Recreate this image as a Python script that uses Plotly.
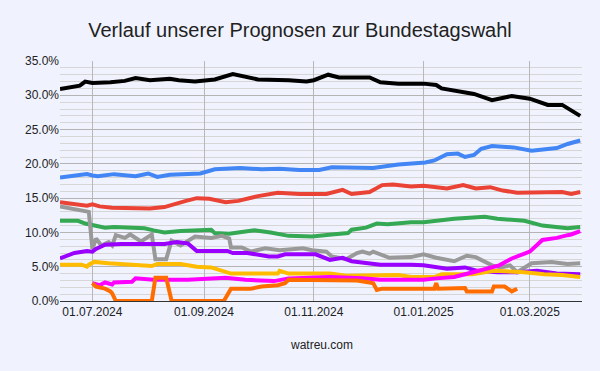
import plotly.graph_objects as go

# ---------------- data ----------------
cdu_dates = ["2024-06-13","2024-06-21","2024-06-24","2024-06-27","2024-07-01","2024-07-11","2024-07-19","2024-07-25",
             "2024-08-02","2024-08-13","2024-08-18","2024-08-27","2024-09-01","2024-09-07","2024-09-17","2024-09-25",
             "2024-10-01","2024-10-18","2024-10-28","2024-11-01","2024-11-09","2024-11-15","2024-12-02","2024-12-08",
             "2024-12-18","2025-01-01","2025-01-08","2025-01-11","2025-01-21","2025-01-29","2025-02-08","2025-02-12",
             "2025-02-19","2025-03-01","2025-03-11","2025-03-19","2025-03-24","2025-03-29"]
cdu_vals = [30.9,31.2,31.4,32.0,31.8,31.9,32.1,32.5,32.2,32.4,32.2,32.0,32.1,32.3,33.1,32.7,
            32.3,32.2,32.0,32.2,33.0,32.6,32.6,31.9,31.7,31.7,31.5,31.0,30.6,30.2,29.3,29.5,
            29.9,29.5,28.6,28.6,27.8,27.0]

afd_dates = ["2024-06-13","2024-06-21","2024-06-28","2024-07-01","2024-07-04","2024-07-13","2024-07-25","2024-08-01",
             "2024-08-06","2024-08-13","2024-08-19","2024-08-30","2024-09-07","2024-09-21","2024-10-03","2024-10-13",
             "2024-10-24","2024-11-04","2024-11-11","2024-11-20","2024-12-04","2024-12-18","2025-01-02","2025-01-07",
             "2025-01-14","2025-01-20","2025-01-24","2025-01-29","2025-02-02","2025-02-08","2025-02-20","2025-03-02",
             "2025-03-11","2025-03-16","2025-03-22","2025-03-29"]
afd_vals = [18.0,18.2,18.5,18.3,18.2,18.5,18.2,18.6,18.1,18.4,18.5,18.6,19.2,19.4,19.2,19.3,
            19.1,19.1,19.5,19.5,19.4,19.9,20.2,20.5,21.4,21.5,21.0,21.3,22.2,22.6,22.4,21.9,
            22.1,22.3,22.9,23.4]

spd_dates = ["2024-06-13","2024-06-21","2024-06-28","2024-07-01","2024-07-05","2024-07-12","2024-08-02","2024-08-10",
             "2024-08-17","2024-08-22","2024-08-28","2024-09-04","2024-09-13","2024-09-20","2024-10-01","2024-10-12",
             "2024-10-24","2024-11-08","2024-11-17","2024-11-22","2024-12-02","2024-12-09","2024-12-15","2024-12-25",
             "2025-01-01","2025-01-14","2025-01-23","2025-01-30","2025-02-07","2025-02-14","2025-02-22","2025-03-05",
             "2025-03-12","2025-03-19","2025-03-24","2025-03-29"]
spd_vals = [14.4,14.2,13.9,14.1,13.8,13.6,13.5,13.7,14.3,14.6,15.0,14.9,14.4,14.6,15.3,15.8,
            15.6,15.6,16.2,15.6,15.9,16.9,17.0,16.7,16.8,16.4,16.9,16.4,16.6,16.1,15.8,15.8,
            15.9,15.9,15.6,15.9]

gruene_dates = ["2024-06-13","2024-06-23","2024-06-27","2024-07-01","2024-07-08","2024-07-13","2024-07-30","2024-08-04",
                "2024-08-10","2024-08-19","2024-09-01","2024-09-05","2024-09-07","2024-09-15","2024-09-29","2024-10-08",
                "2024-10-18","2024-10-31","2024-11-11","2024-11-20","2024-11-22","2024-11-30","2024-12-06","2024-12-12",
                "2024-12-25","2025-01-01","2025-01-18","2025-02-04","2025-02-11","2025-02-26","2025-03-08","2025-03-16",
                "2025-03-22","2025-03-29"]
gruene_vals = [11.7,11.7,11.3,11.1,10.7,10.8,10.6,10.3,10.0,10.2,10.4,10.4,9.9,9.8,10.3,10.0,
               9.5,9.4,9.7,9.9,10.4,10.7,11.3,11.2,11.5,11.5,12.0,12.3,12.0,11.7,11.0,10.8,
               10.6,10.8]

bsw_dates = ["2024-06-13","2024-06-21","2024-06-28","2024-07-01","2024-07-03","2024-07-08","2024-07-17","2024-08-10",
             "2024-08-17","2024-08-23","2024-08-28","2024-09-14","2024-09-17","2024-09-25","2024-10-07","2024-10-12",
             "2024-10-16","2024-10-31","2024-11-02","2024-11-10","2024-11-17","2024-11-22","2024-12-02","2024-12-08",
             "2024-12-25","2025-01-01","2025-01-14","2025-01-24","2025-01-31","2025-02-11","2025-02-22","2025-03-05",
             "2025-03-16","2025-03-29"]
bsw_vals = [6.2,7.0,7.3,7.2,7.6,8.2,8.3,8.3,8.6,8.4,7.3,7.3,7.0,7.0,6.5,6.5,
            6.8,6.8,6.8,6.0,6.3,5.8,5.5,5.3,5.3,5.2,4.7,4.9,4.4,4.2,4.2,4.4,
            4.0,3.9]

fdp_dates = ["2024-06-13","2024-06-25","2024-06-28","2024-06-29","2024-07-02","2024-07-10","2024-08-03","2024-08-06",
             "2024-08-19","2024-08-28","2024-09-05","2024-09-11","2024-09-16","2024-10-12","2024-10-13","2024-10-18",
             "2024-11-10","2024-11-19","2024-12-06","2024-12-18","2024-12-25","2025-01-07","2025-01-11","2025-01-28",
             "2025-02-09","2025-02-26","2025-03-09","2025-03-19","2025-03-29"]
fdp_vals = [5.3,5.3,5.0,5.3,5.7,5.5,5.1,5.4,5.4,5.0,4.9,4.4,4.0,4.0,4.4,4.0,
            4.0,3.7,3.8,3.8,3.5,3.5,3.9,3.9,4.4,4.2,3.9,3.8,3.5]

linke_dates = ["2024-07-01","2024-07-05","2024-07-08","2024-07-12","2024-07-13","2024-07-23","2024-07-25","2024-07-30",
               "2024-08-04","2024-08-23","2024-09-11","2024-09-13","2024-09-24","2024-10-10","2024-10-18","2024-11-10",
               "2024-11-28","2024-12-08","2024-12-25","2025-01-01","2025-01-08","2025-01-18","2025-01-30","2025-02-12",
               "2025-02-19","2025-03-01","2025-03-08","2025-03-16","2025-03-22","2025-03-24","2025-03-29"]
linke_vals = [2.6,2.3,2.7,2.4,2.7,2.8,3.3,3.2,3.1,3.1,3.4,3.4,3.1,2.9,3.3,3.5,
              3.3,3.1,3.1,3.1,3.3,3.5,4.3,5.2,6.2,7.2,8.9,9.2,9.6,9.7,10.2]

fw_dates = ["2024-07-01","2024-07-03","2024-07-08","2024-07-11","2024-07-12","2024-07-14","2024-08-03","2024-08-05",
            "2024-08-11","2024-08-14","2024-09-12","2024-09-16","2024-09-27","2024-10-03","2024-10-12","2024-10-16",
            "2024-10-18","2024-11-25","2024-12-02","2024-12-04","2024-12-06","2024-12-09","2024-12-25","2025-01-07",
            "2025-01-08","2025-01-09","2025-01-24","2025-01-25","2025-02-08","2025-02-09","2025-02-15","2025-02-18",
            "2025-02-19","2025-02-22"]
fw_vals = [2.6,2.1,1.8,1.4,1.1,0.0,0.0,3.4,3.4,0.0,0.0,1.8,1.8,2.1,2.3,2.6,
           3.1,3.0,2.7,2.6,1.6,1.8,1.8,1.8,2.6,1.8,1.9,1.4,1.4,2.1,2.1,1.5,
           1.4,1.8]

sonst_dates = ["2024-06-13","2024-06-23","2024-06-29","2024-07-01","2024-07-03","2024-07-06","2024-07-10","2024-07-12",
               "2024-07-14","2024-07-19","2024-07-22","2024-07-28","2024-08-03","2024-08-05","2024-08-11","2024-08-14",
               "2024-08-19","2024-08-27","2024-09-05","2024-09-11","2024-09-15","2024-09-16","2024-09-22","2024-09-27",
               "2024-10-05","2024-10-13","2024-10-26","2024-10-31","2024-11-08","2024-11-11","2024-11-19","2024-11-25",
               "2024-11-28","2024-12-02","2024-12-04","2024-12-13","2024-12-25","2025-01-01","2025-01-08","2025-01-18",
               "2025-01-25","2025-01-30","2025-02-08","2025-02-13","2025-02-18","2025-02-22","2025-03-02","2025-03-13",
               "2025-03-22","2025-03-29"]
sonst_vals = [13.8,13.3,13.0,7.6,9.1,8.1,8.6,8.1,9.6,9.2,9.7,8.7,9.7,6.1,6.1,8.8,
              8.1,9.4,9.2,9.5,9.1,7.8,7.8,7.2,7.7,7.4,7.7,7.4,7.2,6.5,6.1,7.0,
              7.2,6.9,7.2,6.3,6.4,6.8,6.3,5.8,6.6,6.4,5.2,4.9,5.2,4.2,5.5,5.7,
              5.4,5.5]

tick_vals = ["2024-07-01", "2024-09-01", "2024-11-01", "2025-01-01", "2025-03-01"]
tick_text = ["01.07.2024", "01.09.2024", "01.11.2024", "01.01.2025", "01.03.2025"]

series = [
    ("CDU/CSU", cdu_dates, cdu_vals, "#000000"),
    ("AfD", afd_dates, afd_vals, "#4285f4"),
    ("SPD", spd_dates, spd_vals, "#ea4335"),
    ("Grüne", gruene_dates, gruene_vals, "#34a853"),
    ("Sonstige", sonst_dates, sonst_vals, "#999999"),
    ("BSW", bsw_dates, bsw_vals, "#9900ff"),
    ("FDP", fdp_dates, fdp_vals, "#ffbb00"),
    ("Linke", linke_dates, linke_vals, "#ff00ff"),
    ("Freie Wähler", fw_dates, fw_vals, "#ff6d01"),
]

fig = go.Figure()
for name, d, v, c in series:
    fig.add_trace(go.Scatter(x=d, y=v, mode="lines", name=name,
                             line=dict(color=c, width=4)))

bg = "#f0f3fe"
font_family = "Liberation Sans, Arial, sans-serif"
fig.update_layout(
    width=600, height=371,
    margin=dict(l=60, r=18, t=61, b=70),
    paper_bgcolor=bg, plot_bgcolor=bg,
    showlegend=False,
    font=dict(family=font_family, size=12, color="#222222"),
    title=dict(text="Verlauf unserer Prognosen zur Bundestagswahl",
               x=0.5, xref="container", y=(371 - 30) / 371, yref="container",
               xanchor="center", yanchor="middle",
               font=dict(family=font_family, size=20, color="#222222")),
    xaxis=dict(type="date", range=["2024-06-13", "2025-03-30"],
               tickvals=tick_vals, ticktext=tick_text,
               showgrid=True, gridcolor="#b8b8b8", gridwidth=1,
               showline=True, linecolor="#333333", linewidth=1,
               ticks="", zeroline=False,
               tickfont=dict(size=12, color="#222222")),
    yaxis=dict(range=[0, 35], dtick=5, tick0=0,
               tickformat=".1f", ticksuffix="%",
               showgrid=True, gridcolor="#b4b4b4", gridwidth=1,
               minor=dict(dtick=1, showgrid=True, gridcolor="#d6d6d6", gridwidth=1),
               zeroline=False, showline=False, ticks="",
               tickfont=dict(size=12, color="#222222")),
    annotations=[dict(text="watreu.com", x=0.5, xref="paper",
                      y=(301 - 345) / 240, yref="paper",
                      xanchor="center", yanchor="middle", showarrow=False,
                      font=dict(family=font_family, size=12, color="#222222"))],
)

fig.write_html("out.html",
               config={"displayModeBar": False},
               post_script="document.body.style.margin='0';document.body.style.overflow='hidden';document.body.style.background='#f0f3fe';")
